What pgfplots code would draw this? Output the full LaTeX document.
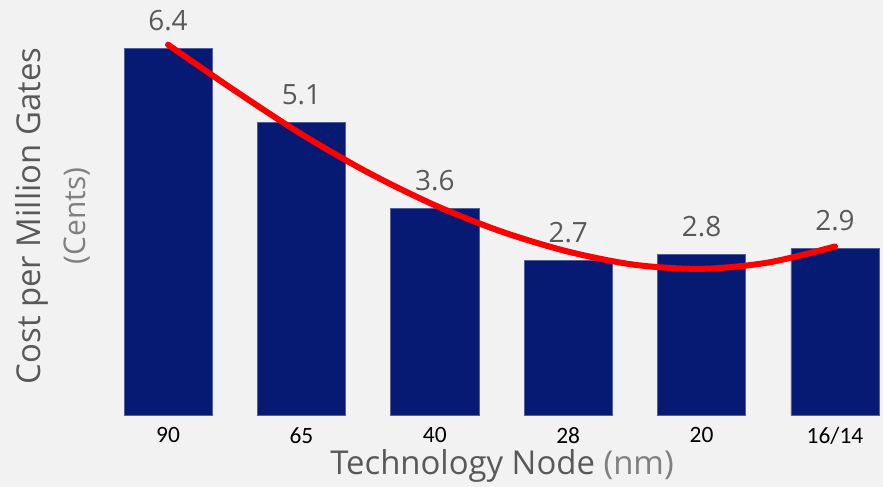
\documentclass[border=0pt]{standalone}
\usepackage{pgfplots}
\pgfplotsset{compat=1.18}
\usepackage{fontspec}
\setmainfont{Open Sans}
\newfontfamily\tickfont{Carlito}
\definecolor{bg}{HTML}{F2F2F2}
\definecolor{barblue}{HTML}{061A74}
\definecolor{labgray}{HTML}{595959}
\definecolor{lightgray}{HTML}{808080}
\begin{document}
\begin{tikzpicture}[x=1bp,y=1bp]
\fill[bg] (0,0) rectangle (883,487);
\begin{axis}[
  at={(124bp,72bp)}, anchor=south west,
  scale only axis, width=755bp, height=415bp,
  xmin=-0.33, xmax=5.33, ymin=0, ymax=7.24,
  axis line style={draw=none},
  major tick length=0pt,
  ytick=\empty,
  xtick={0,1,2,3,4,5},
  xticklabels={90,65,40,28,20,16/14},
  xticklabel style={font=\tickfont\fontsize{23.5}{26}\selectfont, text=black, yshift=-9bp},
  clip=false,
]
\addplot[ybar, bar width=0.66, fill=barblue, draw=barblue!70!white, line width=0.6bp,
  nodes near coords,
  every node near coord/.append style={font=\fontsize{28}{31}\selectfont, text=labgray, yshift=14bp},
  point meta=y, nodes near coords={\pgfmathprintnumber[fixed,precision=1,fixed zerofill,assume math mode=true]{\pgfplotspointmeta}}]
coordinates {(0,6.4) (1,5.1) (2,3.6) (3,2.7) (4,2.8) (5,2.9)};
\addplot[red, line width=6bp, smooth, line cap=round, mark=none]
coordinates {(0,6.46) (0.5,5.66) (1,4.90) (1.5,4.23) (2,3.66) (2.5,3.20) (3,2.85) (3.5,2.62) (4,2.55) (4.5,2.66) (5,2.94)};
\end{axis}
\node[rotate=90, text=labgray, font=\fontsize{33}{36}\selectfont] at (32,271) {Cost per Million Gates};
\node[rotate=90, text=lightgray, font=\fontsize{30}{33}\selectfont] at (77,271) {(Cents)};
\node[font=\fontsize{33}{36}\selectfont] at (502,21) {\textcolor{labgray}{Technology Node} \textcolor{lightgray}{(nm)}};
\pgfresetboundingbox
\useasboundingbox (0,0) rectangle (883,487);
\end{tikzpicture}
\end{document}
